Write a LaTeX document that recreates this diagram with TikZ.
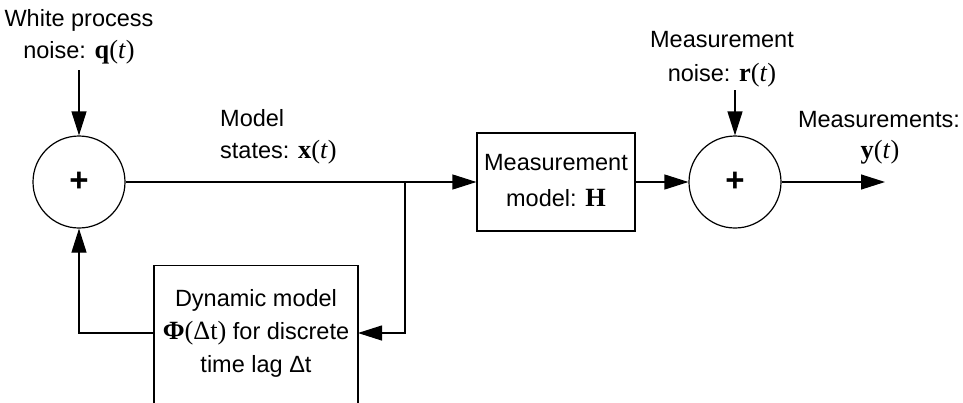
\documentclass[tikz,border=0pt]{standalone}
\usepackage{fontspec}
\setmainfont{Liberation Sans}
\newfontfamily\ser[Scale=1.12]{Liberation Serif}
\usetikzlibrary{arrows.meta}
\newcommand{\bv}[1]{{\ser\bfseries #1}}
\newcommand{\ofT}{{\ser(\itshape t\/\upshape)}}
\begin{document}
\begin{tikzpicture}[x=1pt,y=-1pt,
  every node/.style={font=\fontsize{23.5}{28}\selectfont, inner sep=0pt},
  sumc/.style={draw, circle, minimum size=92pt, line width=1.2pt, font=\fontsize{33}{33}\selectfont\bfseries},
  blk/.style={draw, rectangle, line width=1.2pt},
  lbl/.style={align=center},
  conn/.style={line width=1.2pt},
  arr/.style={conn, -{Triangle[length=24pt,width=15pt]}}]
\clip (0,0) rectangle (963,402);
\useasboundingbox (0,0) rectangle (963,402);
% nodes
\node[sumc] (s1) at (79,182) {+};
\node[sumc] (s2) at (735,182) {+};
\node[blk, minimum width=158pt, minimum height=98pt] (H) at (556,182) {};
\node[lbl] at (556,163) {Measurement};
\node[lbl] (Ht) at (556,198) {model: {\ser\bfseries H}};
\node[blk, anchor=north, minimum width=204pt, minimum height=170pt] (dyn) at (256,265) {};
\node[lbl] at (256,300) {Dynamic model};
\node[lbl] at (256,333) {{\ser\bfseries\char"03A6}{\ser(\char"0394 t)} for discrete};
\node[lbl] at (256,366) {time lag \char"0394 t};
% labels
\node[lbl] (wp1) at (79,20) {White process};
\node[lbl] (wp2) at (79,52) {noise: \bv{q}\ofT};
\node[anchor=west] at (220,118) {Model};
\node[anchor=west] at (220,152) {states: \bv{x}\ofT};
\node[lbl] at (722,40) {Measurement};
\node[lbl] at (722,75) {noise: \bv{r}\ofT};
\node[lbl] at (879,120) {Measurements:};
\node[lbl] at (880,152) {\bv{y}\ofT};
% coordinates
\coordinate (q0) at (79,70);
\coordinate (r0) at (735,90);
\coordinate (yout) at (885,182);
\coordinate (j) at (405,182);
\coordinate (j2) at (405,333);
\coordinate (de) at (358,333);
\coordinate (dw) at (154,333);
\coordinate (c1) at (79,333);
% connectors
\draw[arr] (q0) -- (s1.north);
\draw[arr] (s1.east) -- (H.west);
\draw[arr] (H.east) -- (s2.west);
\draw[arr] (r0) -- (s2.north);
\draw[arr] (s2.east) -- (yout);
\draw[arr] (j) -- (j2) -- (de);
\draw[arr] (dw) -- (c1) -- (s1.south);
\end{tikzpicture}
\end{document}
